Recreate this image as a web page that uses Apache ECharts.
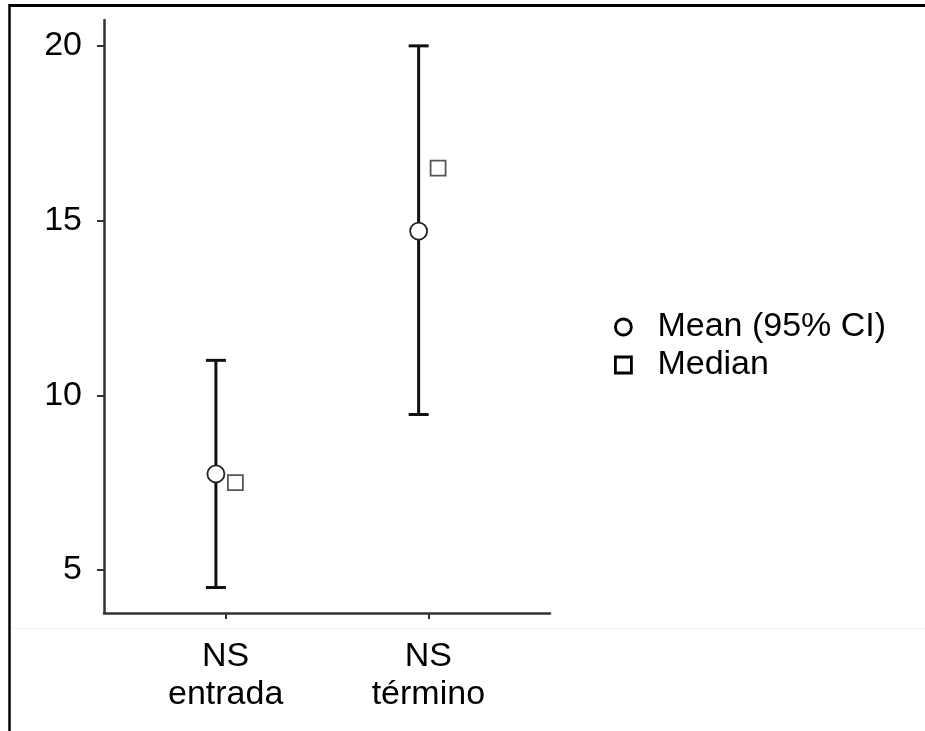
<!DOCTYPE html>
<html>
<head>
<meta charset="utf-8">
<script src="https://cdn.jsdelivr.net/npm/echarts@6/dist/echarts.min.js"></script>
<style>html,body{margin:0;padding:0;background:#fff}#chart{width:925px;height:731px}</style>
</head>
<body>
<div id="chart"></div>
<script>
// Data
var categories = ['NS\nentrada', 'NS\ntérmino'];
var meanValues = [7.75, 14.7];
var ciLower = [4.5, 9.45];
var ciUpper = [11.0, 20.0];
var medianValues = [7.5, 16.5];
var yTicks = [5, 10, 15, 20];
var seriesNames = ['Mean (95% CI)', 'Median'];

var xPos = categories.map(function (c, i) { return i + 1; });
var dodge = 0.048;

var chart = echarts.init(document.getElementById('chart'));
var FONT = 'Liberation Sans, Arial, sans-serif';

var errData = xPos.map(function (x, i) { return [x - dodge, ciLower[i], ciUpper[i]]; });
var meanData = xPos.map(function (x, i) { return [x - dodge, meanValues[i]]; });
var medData = xPos.map(function (x, i) { return [x + dodge, medianValues[i]]; });

chart.setOption({
  animation: false,
  backgroundColor: '#fff',
  grid: { left: 104, right: 375, top: 20, bottom: 118 },
  xAxis: {
    type: 'value', min: 0.4, max: 2.6,
    splitLine: { show: false },
    axisLine: { show: true, lineStyle: { color: '#333', width: 2.5 } },
    axisTick: { show: true, customValues: xPos, length: 6, lineStyle: { color: '#333', width: 2 } },
    axisLabel: {
      customValues: xPos,
      formatter: function (v) { return categories[Math.round(v) - 1] || ''; },
      fontFamily: FONT, fontSize: 34, color: '#000', lineHeight: 38, margin: 25
    }
  },
  yAxis: {
    type: 'value', min: 3.77, max: 20.74,
    splitLine: { show: false },
    axisLine: { show: true, lineStyle: { color: '#333', width: 2.5 } },
    axisTick: { show: true, customValues: yTicks, length: 7, lineStyle: { color: '#333', width: 2 } },
    axisLabel: {
      customValues: yTicks,
      fontFamily: FONT, fontSize: 34, color: '#000', margin: 22
    }
  },
  legend: {
    orient: 'vertical', left: 609, top: 305,
    itemWidth: 16, itemHeight: 16, itemGap: 4,
    textStyle: { fontFamily: FONT, fontSize: 34, color: '#000', padding: [0, 0, 0, 21] },
    data: [
      { name: seriesNames[0], icon: 'circle', itemStyle: { color: '#fff', borderColor: '#000', borderWidth: 2.8 } },
      { name: seriesNames[1], icon: 'rect', itemStyle: { color: '#fff', borderColor: '#000', borderWidth: 2.8 } }
    ]
  },
  series: [
    {
      type: 'custom', name: 'ci', silent: true, z: 2,
      data: errData,
      encode: { x: 0, y: [1, 2] },
      renderItem: function (params, api) {
        var lo = api.coord([api.value(0), api.value(1)]);
        var hi = api.coord([api.value(0), api.value(2)]);
        var hw = 10;
        var st = { stroke: '#111', lineWidth: 3 };
        return {
          type: 'group',
          children: [
            { type: 'line', shape: { x1: lo[0], y1: lo[1], x2: hi[0], y2: hi[1] }, style: st },
            { type: 'line', shape: { x1: lo[0] - hw, y1: lo[1], x2: lo[0] + hw, y2: lo[1] }, style: st },
            { type: 'line', shape: { x1: hi[0] - hw, y1: hi[1], x2: hi[0] + hw, y2: hi[1] }, style: st }
          ]
        };
      }
    },
    {
      type: 'scatter', name: seriesNames[0], z: 3,
      data: meanData, symbol: 'circle', symbolSize: 17,
      itemStyle: { color: '#fff', borderColor: '#222', borderWidth: 1.8, opacity: 1 }
    },
    {
      type: 'scatter', name: seriesNames[1], z: 3,
      data: medData, symbol: 'rect', symbolSize: 15,
      itemStyle: { color: '#fff', borderColor: '#555', borderWidth: 1.8, opacity: 1 }
    }
  ],
  graphic: [
    { type: 'line', silent: true, shape: { x1: 9, y1: 5.5, x2: 925, y2: 5.5 }, style: { stroke: '#000', lineWidth: 3 } },
    { type: 'line', silent: true, shape: { x1: 9.5, y1: 4, x2: 9.5, y2: 731 }, style: { stroke: '#000', lineWidth: 2.5 } },
    { type: 'line', silent: true, shape: { x1: 11, y1: 628.5, x2: 925, y2: 628.5 }, style: { stroke: '#f3f3f3', lineWidth: 1 } }
  ]
});
</script>
</body>
</html>
